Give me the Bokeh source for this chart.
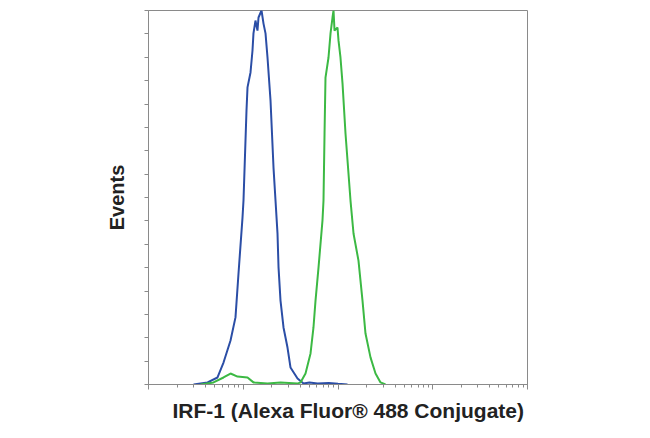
from bokeh.plotting import figure
from bokeh.models import FixedTicker, LogTicker, Title
from bokeh.embed import file_html
from bokeh.resources import INLINE

# isotype control (blue) - fluorescence vs events
blue_x = [2.99, 4.20, 5.35, 6.19, 7.34, 8.28, 8.91, 9.82, 10.06, 10.82, 11.09, 11.93,
          12.52, 12.82, 13.46, 14.13, 14.49, 15.59, 16.36, 17.18, 18.03, 19.40, 20.86,
          21.90, 22.99, 23.57, 24.73, 26.60, 29.31, 31.52, 37.4, 43.3, 50.0, 60.8, 80.0,
          100.0, 126.0]
blue_y = [0, 0.9, 3.0, 9.4, 18.8, 28.7, 47.5, 71.4, 78.7, 117.2, 127.1, 133.5,
          142.9, 150.2, 155.7, 151.4, 157.0, 160.0, 154.4, 150.2, 139.9, 121.5, 92.8,
          78.7, 64.6, 50.1, 35.9, 24.4, 15.8, 7.3, 2.6, 0.4, 0.9, 0.4, 0.6,
          0.3, 0]

# IRF-1 stained (green)
green_x = [3.54, 4.85, 6.19, 7.34, 8.70, 11.09, 12.82, 18.03, 24.73, 37.4, 40.2, 45.4,
           51.3, 55.1, 57.9, 62.3, 68.6, 70.3, 72.1, 73.8, 79.4, 83.4, 87.5, 89.7,
           91.9, 98.8, 101.2, 106.2, 111.6, 120.0, 135.5, 145.8, 164.5, 181.4, 195.1,
           220.3, 248.9, 281.1, 317.0]
green_y = [0, 0.9, 3.0, 4.7, 3.4, 3.0, 0.9, 0.4, 0.9, 0.4, 0.9, 4.7,
           13.3, 24.4, 35.9, 50.1, 70.2, 78.7, 107.4, 131.3, 139.9, 150.2, 157.0, 160.0,
           151.4, 152.7, 147.2, 139.9, 128.8, 107.4, 78.7, 64.6, 53.0, 35.9, 21.8,
           11.6, 4.7, 0.9, 0]

y_ticks = list(range(0, 170, 10))

grey = "#8a8a8a"
font = "Liberation Sans"

p = figure(width=634, height=430, x_axis_type="log", x_range=(1, 10000), y_range=(0, 160),
           output_backend="svg", toolbar_location=None,
           min_border_left=148, min_border_right=107, min_border_top=10, min_border_bottom=46)

p.line(blue_x, blue_y, line_color="#2b4ea6", line_width=2)
p.line(green_x, green_y, line_color="#3cb944", line_width=2)

p.xgrid.visible = False
p.ygrid.visible = False
p.outline_line_color = grey
p.outline_line_width = 1

p.xaxis.ticker = LogTicker(num_minor_ticks=10)
p.yaxis.ticker = FixedTicker(ticks=y_ticks)
for ax in (p.xaxis, p.yaxis):
    ax.axis_line_color = grey
    ax.major_tick_line_color = grey
    ax.minor_tick_line_color = grey
    ax.major_label_text_font_size = "1px"
    ax.major_label_text_color = None
    ax.major_label_standoff = 0

p.xaxis.major_tick_in = 0
p.xaxis.major_tick_out = 5
p.xaxis.minor_tick_in = 0
p.xaxis.minor_tick_out = 3
p.yaxis.major_tick_in = 0
p.yaxis.major_tick_out = 4
p.yaxis.minor_tick_line_color = None

p.yaxis.axis_label = "Events"
p.yaxis.axis_label_text_font = font
p.yaxis.axis_label_text_font_style = "bold"
p.yaxis.axis_label_text_font_size = "20px"
p.yaxis.axis_label_text_color = "#222222"
p.yaxis.axis_label_standoff = 17

xlabel = Title(text="IRF-1 (Alexa Fluor® 488 Conjugate)", align="left", offset=24,
               text_font=font, text_font_style="bold", text_font_size="21px",
               text_color="#222222", standoff=15)
p.add_layout(xlabel, "below")

open("out.html", "w").write(file_html(p, INLINE))
